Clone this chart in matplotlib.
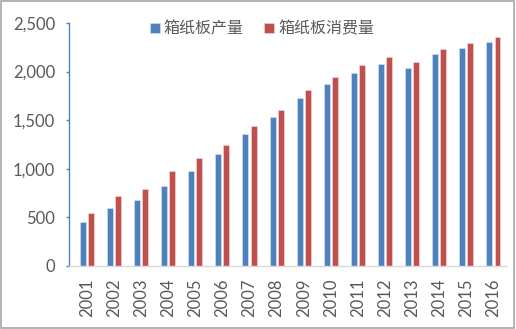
import matplotlib
matplotlib.use("Agg")
import matplotlib.pyplot as plt
import numpy as np
from matplotlib.patches import Rectangle
from matplotlib.ticker import FuncFormatter

years = ["2001", "2002", "2003", "2004", "2005", "2006", "2007", "2008",
         "2009", "2010", "2011", "2012", "2013", "2014", "2015", "2016"]
production = [456, 593, 676, 826, 974, 1149, 1358, 1530,
              1725, 1876, 1989, 2078, 2034, 2178, 2240, 2305]
consumption = [542, 723, 792, 974, 1114, 1248, 1437, 1602,
               1808, 1941, 2071, 2153, 2102, 2236, 2294, 2359]
series_names = ["箱纸板产量", "箱纸板消费量"]

blue = "#4F81BD"
red = "#C0504D"
gray = "#595959"

plt.rcParams['font.family'] = ['Lato', 'Noto Sans CJK SC', 'DejaVu Sans']

fig = plt.figure(figsize=(5.16, 3.29), dpi=100)
ax = fig.add_axes([69/516, 1-266/329, (507-69)/516, (266-23)/329])

x = np.arange(len(years))
w = 0.22
ax.bar(x - 0.15, production, width=w, color=blue, edgecolor="#DCE6F2", linewidth=0.4, label=series_names[0])
ax.bar(x + 0.15, consumption, width=w, color=red, edgecolor="#F2DCDB", linewidth=0.4, label=series_names[1])

ax.set_xlim(-0.66, 15.5)
ax.set_ylim(0, 2500)
ax.set_yticks([0, 500, 1000, 1500, 2000, 2500])
ax.yaxis.set_major_formatter(FuncFormatter(lambda v, p: f"{int(v):,}"))
ax.set_xticks(x)
ax.set_xticklabels(years, rotation=90)

for s in ["top", "right"]:
    ax.spines[s].set_visible(False)
ax.spines["left"].set_color(blue)
ax.spines["left"].set_linewidth(1.0)
ax.spines["bottom"].set_color("#D9D9D9")
ax.spines["bottom"].set_linewidth(1.0)

ax.tick_params(axis="y", direction="out", length=2.5, width=1.0, color=blue,
               labelsize=12, labelcolor=gray, pad=7.5)
ax.tick_params(axis="x", length=0, labelsize=12, labelcolor=gray, pad=9)

leg = fig.legend(loc="center", bbox_to_anchor=(262/516, 1-29/329), ncol=2, frameon=False,
                 handlelength=0.6, handleheight=0.6, handletextpad=0.25, columnspacing=1.3,
                 prop={'family': ['Noto Sans CJK SC', 'DejaVu Sans'], 'size': 11.5})
for t in leg.get_texts():
    t.set_color(gray)

fig.patches.append(Rectangle((0.002, 0.003), 0.994, 0.993, transform=fig.transFigure,
                             fill=False, edgecolor="#A6A6A6", linewidth=1.2))

fig.savefig("out.png", dpi=100)
